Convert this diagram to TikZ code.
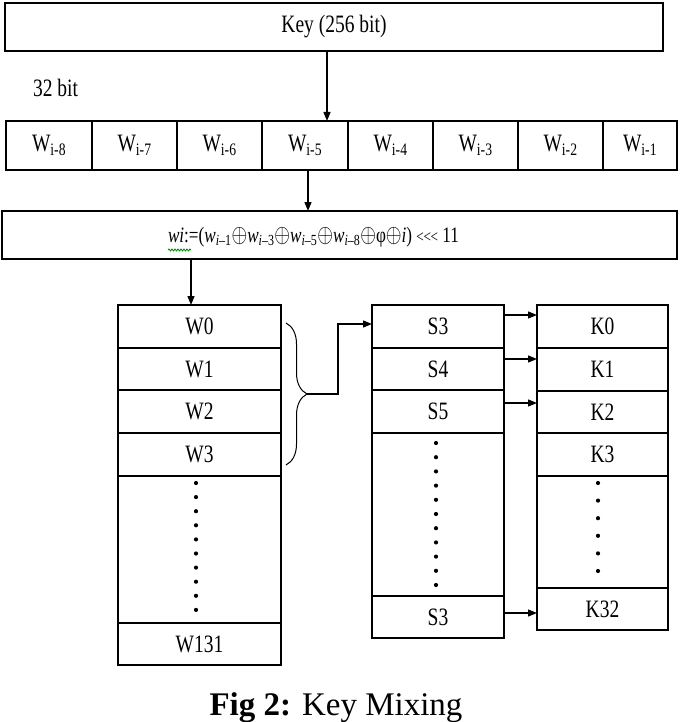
\documentclass[tikz,border=0pt]{standalone}
\usepackage{fontspec}
\setmainfont{Liberation Serif}
\usepackage{graphicx}
\usetikzlibrary{arrows.meta,decorations.pathreplacing,decorations.pathmorphing,calc}
\newcommand{\sq}[1]{\scalebox{0.78}[1]{#1}}
\newcommand{\myoplus}{\scalebox{1.25}{$\oplus$}}
\begin{document}
\begin{tikzpicture}[x=1pt,y=-1pt,
  every node/.style={font=\fontsize{25}{28}\selectfont, inner sep=0pt, outer sep=0pt},
  rowcell/.style={draw, line width=1.4pt, minimum height=49pt},
  colcell/.style={minimum height=#1},
  outline/.style={line width=1.5pt},
  divider/.style={line width=2.8pt},
  arr/.style={line width=1.3pt, -{Triangle[length=9pt,width=7pt]}},
  bracestyle/.style={line width=1pt, decorate, decoration={brace, amplitude=21pt}},
  squig/.style={green!55!black, line width=0.9pt, decorate, decoration={snake, amplitude=0.9pt, segment length=3pt}},
  dotmark/.style={fill=black}
]
\useasboundingbox (0,0) rectangle (680,722);

% key box
\node[draw, line width=1.2pt, minimum width=658pt, minimum height=48pt] (key) at (334,27) {\sq{Key (256 bit)}};
\draw[line width=2.6pt] (key.south west) -- (key.south east);
\node[anchor=base west] (lbl) at (33,97) {\sq{32 bit}};

% W row
\foreach \n/\cx/\w/\s in {1/49/86/8, 2/134.5/85/7, 3/219.5/85/6, 4/305/86/5, 5/390.5/85/4, 6/475.5/85/3, 7/560.5/85/2, 8/640/74/1}
  \node[rowcell, minimum width=\w] (c\n) at (\cx,145.5) {\sq{W\textsubscript{i-\s}}};

% formula box
\node[draw, line width=1.8pt, minimum width=675pt, minimum height=48pt] (form) at (339.5,235) {};
\node[anchor=west] (ftxt) at (168,237) {\fontsize{22}{24}\selectfont\sq{\textit{wi}:=(\textit{w}\textsubscript{\textit{i}–1}\myoplus\textit{w}\textsubscript{\textit{i}–3}\myoplus\textit{w}\textsubscript{\textit{i}–5}\myoplus\textit{w}\textsubscript{\textit{i}–8}\myoplus φ\myoplus\textit{i}) {\fontsize{17}{17}\selectfont\textless\kern-0.5pt\textless\kern-0.5pt\textless} 11}};
\draw[squig] ([yshift=-3pt]ftxt.south west) -- ++(23,0);

% W column
\node[colcell=43pt, minimum width=163pt] (w0) at (199.5,326.5) {\sq{W0}};
\node[colcell=42pt, minimum width=163pt] (w1) at (199.5,369) {\sq{W1}};
\node[colcell=43pt, minimum width=163pt] (w2) at (199.5,411.5) {\sq{W2}};
\node[colcell=43pt, minimum width=163pt] (w3) at (199.5,454.5) {\sq{W3}};
\node[colcell=147pt, minimum width=163pt] (wd) at (199.5,549.5) {};
\node[colcell=42pt, minimum width=163pt] (w131) at (199.5,644) {\sq{W131}};
\draw[outline] (w0.north west) rectangle (w131.south east);
\foreach \a in {w0,w1,w2,w3,wd} \draw[divider] (\a.south west) -- (\a.south east);
\foreach \i in {0,...,9} \fill[dotmark] (196,483+\i*14.1) circle (2.1pt);

% S column
\node[colcell=43pt, minimum width=132pt] (s3a) at (438,326.5) {\sq{S3}};
\node[colcell=42pt, minimum width=132pt] (s4) at (438,369) {\sq{S4}};
\node[colcell=43pt, minimum width=132pt] (s5) at (438,411.5) {\sq{S5}};
\node[colcell=163pt, minimum width=132pt] (sd) at (438,514.5) {};
\node[colcell=42pt, minimum width=132pt] (s3b) at (438,617) {\sq{S3}};
\draw[outline] (s3a.north west) rectangle (s3b.south east);
\foreach \a in {s3a,s4,s5,sd} \draw[divider] (\a.south west) -- (\a.south east);
\foreach \i in {0,...,10} \fill[dotmark] (436,443+\i*14.2) circle (2.1pt);

% K column
\node[colcell=43pt, minimum width=131pt] (k0) at (602.5,326.5) {\sq{K0}};
\node[colcell=43pt, minimum width=131pt] (k1) at (602.5,369.5) {\sq{K1}};
\node[colcell=42pt, minimum width=131pt] (k2) at (602.5,412) {\sq{K2}};
\node[colcell=43pt, minimum width=131pt] (k3) at (602.5,454.5) {\sq{K3}};
\node[colcell=112pt, minimum width=131pt] (kd) at (602.5,532) {};
\node[colcell=42pt, minimum width=131pt] (k32) at (602.5,609) {\sq{K32}};
\draw[outline] (k0.north west) rectangle (k32.south east);
\foreach \a in {k0,k1,k2,k3,kd} \draw[divider] (\a.south west) -- (\a.south east);
\foreach \i in {0,...,5} \fill[dotmark] (598,483+\i*17.6) circle (2.1pt);

% arrows top part
\coordinate (ka) at ([xshift=-7pt]key.south);
\draw[arr] (ka) -- (ka |- c4.north);
\coordinate (wa) at ([xshift=3pt]c4.south);
\draw[arr] (wa) -- (wa |- form.north);
\coordinate (fa) at ([xshift=-8.5pt]w0.north);
\draw[arr] (fa |- form.south) -- (fa);

% brace and connector
\coordinate (btop) at ([xshift=5pt,yshift=-18pt]w0.north east);
\coordinate (bbot) at ([xshift=5pt,yshift=11pt]w3.south east);
\draw[bracestyle] (btop) -- (bbot);
\coordinate (bt) at ($(btop)!0.5!(bbot)+(21,0)$);
\coordinate (sin) at ([yshift=2.5pt]s3a.west);
\draw[arr] (bt) -- ++(31,0) |- (sin);

% S to K arrows
\coordinate (a1) at ([yshift=11.5pt]s3a.east);
\draw[arr] (a1) -- (a1 -| k0.west);
\coordinate (a2) at ([yshift=10pt]s4.east);
\draw[arr] (a2) -- (a2 -| k1.west);
\coordinate (a3) at ([yshift=8.5pt]s5.east);
\draw[arr] (a3) -- (a3 -| k2.west);
\coordinate (a4) at ([yshift=4pt]s3b.east);
\draw[arr] (a4) -- (a4 -| k32.west);

% caption
\node[anchor=base] (cap) at (336,715) {\fontsize{33}{36}\selectfont\textbf{Fig 2:} Key Mixing};
\end{tikzpicture}
\end{document}
